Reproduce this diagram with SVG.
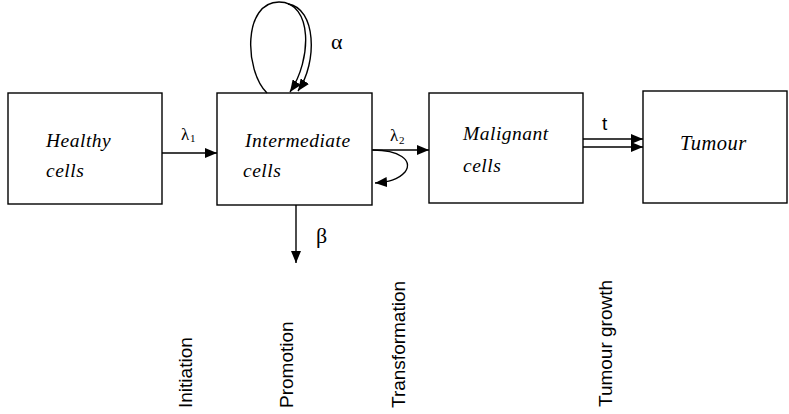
<svg xmlns="http://www.w3.org/2000/svg" width="789" height="414" viewBox="0 0 789 414">
<style>
.box{fill:#fff;stroke:#000;stroke-width:1.4}
.lbl{font-family:"Liberation Serif",serif;font-style:italic;font-size:19.5px;letter-spacing:0.5px;fill:#000}
.sym{font-family:"Liberation Serif",serif;font-size:22px;fill:#000}
.lam{font-family:"Liberation Serif",serif;font-size:17px;fill:#000}
.sub{font-family:"Liberation Serif",serif;font-size:11px;fill:#000}
.stage{font-family:"Liberation Sans",Arial,sans-serif;font-size:19px;fill:#000}
.ln{fill:none;stroke:#000;stroke-width:1.4}
</style>
<defs>
<marker id="ah" viewBox="0 0 12 10" refX="12" refY="5" markerWidth="12" markerHeight="10" markerUnits="userSpaceOnUse" orient="auto">
<path d="M0,0 L12,5 L0,10 Z" fill="#000"/>
</marker>
</defs>
<g id="healthy"><rect class="box" x="8" y="93" width="154" height="111"/>
<text class="lbl" x="46" y="147">Healthy</text><text class="lbl" x="46" y="177">cells</text></g>
<g id="intermediate"><rect class="box" x="217" y="93" width="155" height="112"/>
<text class="lbl" x="245" y="147">Intermediate</text><text class="lbl" x="243" y="177">cells</text></g>
<g id="malignant"><rect class="box" x="429" y="93" width="154" height="110"/>
<text class="lbl" x="463" y="140">Malignant</text><text class="lbl" x="463" y="172">cells</text></g>
<g id="tumour"><rect class="box" x="643" y="91" width="144" height="112"/>
<text class="lbl" x="680" y="150" style="font-size:20.5px">Tumour</text></g>
<g id="connectors">
<line class="ln" x1="162" y1="153" x2="217" y2="153" marker-end="url(#ah)"/>
<text class="lam" x="181" y="140">λ</text><text class="sub" x="190" y="142">1</text>
<line class="ln" x1="372" y1="150" x2="429" y2="150" marker-end="url(#ah)"/>
<text class="lam" x="390" y="141">λ</text><text class="sub" x="399" y="144">2</text>
<path class="ln" d="M373 150 C398 150 414 160 405 172 C398 180 388 182 375 183" marker-end="url(#ah)"/>
<path class="ln" d="M267 93 C244 70 243 2 279 2 C313 2 312 60 290 92" marker-end="url(#ah)"/>
<path class="ln" d="M288 4 C316 8 318 62 298 91" marker-end="url(#ah)"/>
<text class="sym" x="331" y="49">α</text>
<line class="ln" x1="296" y1="205" x2="296" y2="263" marker-end="url(#ah)"/>
<text class="sym" x="316" y="243">β</text>
<line class="ln" x1="583" y1="139" x2="643" y2="139" marker-end="url(#ah)"/>
<line class="ln" x1="583" y1="147" x2="643" y2="147" marker-end="url(#ah)"/>
<text class="stage" x="602" y="130">t</text>
</g>
<text class="stage" transform="translate(192,408) rotate(-90)">Initiation</text>
<text class="stage" transform="translate(293,408) rotate(-90)">Promotion</text>
<text class="stage" transform="translate(405,408) rotate(-90)">Transformation</text>
<text class="stage" transform="translate(612,407) rotate(-90)">Tumour growth</text>
</svg>
